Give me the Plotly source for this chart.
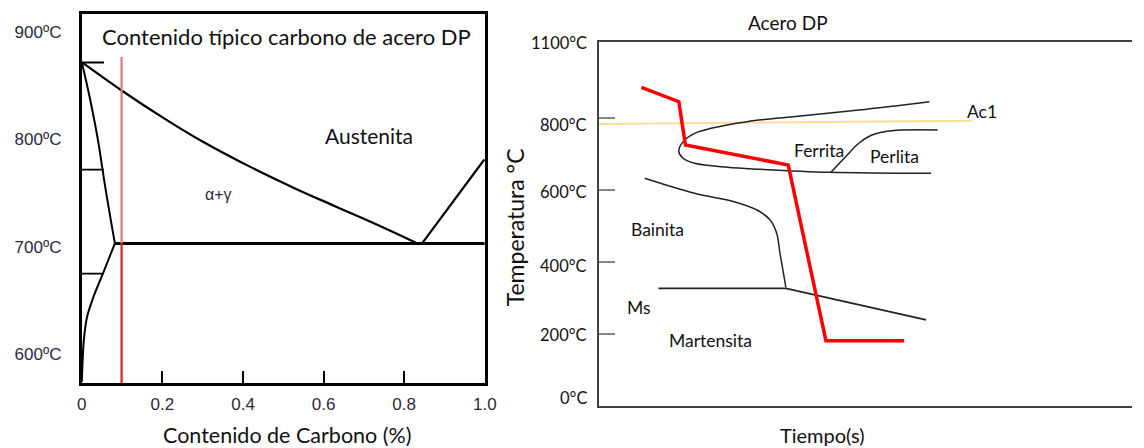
import plotly.graph_objects as go

W, H = 1144, 448

# ---------------- Left panel: Fe-C diagram (carbon % vs temperature) ----------------
left_xticks = [0, 0.2, 0.4, 0.6, 0.8, 1.0]
left_xtick_text = ["0", "0.2", "0.4", "0.6", "0.8", "1.0"]
left_yticks = [600, 700, 800, 900]
left_ytick_text = ["600ºC", "700ºC", "800ºC", "900ºC"]

# A3 line (gamma / alpha+gamma boundary)
a3_c = [0.0007, 0.0986, 0.2169, 0.2983, 0.4205, 0.5264, 0.6242, 0.7303, 0.8281]
a3_t = [871.8, 845.7, 816.7, 798.4, 774.0, 754.9, 738.5, 721.0, 704.0]
# ferrite upper boundary (alpha / alpha+gamma)
fa_c = [0.0007, 0.021, 0.040, 0.058, 0.082]
fa_t = [870.8, 836.6, 799.4, 755.9, 703.1]
# ferrite solvus below eutectoid
fs_c = [0.082, 0.054, 0.029, 0.013, 0.005, 0.002, 0.0]
fs_t = [703.1, 676.7, 653.4, 634.7, 613.0, 594.4, 574.2]
# eutectoid line
eut_c = [0.082, 1.0]
eut_t = [703.0, 703.0]
# Acm line
acm_c = [0.844, 0.999]
acm_t = [703.0, 781.4]
# short reference marks on the left
mark_c = [0.0, 0.055]
mark_t = [871.8, 772.0, 675.0]
# DP steel typical carbon
dp_c = 0.0986
dp_top_t = 877.0
eut_temp = 703.0
left_ymin, left_ymax = 573.0, 917.0

# ---------------- Right panel: CCT diagram ----------------
r_ytick_vals = [200, 400, 600, 800]
r_label_vals = [22, 197, 389, 594, 780, 1008]
r_label_text = ["0°C", "200°C", "400°C", "600°C", "800°C", "1100°C"]

ac1_t = [0.0, 70.0]
ac1_T = [783.3, 792.5]

fer_t = [61.98, 48.74, 36.41, 27.78, 21.01, 17.93, 15.77, 14.97, 15.77, 17.93, 24.09, 30.26, 43.19, 62.29]
fer_T = [845.3, 822.2, 803.7, 789.8, 771.3, 757.4, 734.3, 706.4, 688.0, 674.1, 663.0, 657.4, 649.1, 646.3]

per_t = [43.5, 46.27, 48.74, 51.2, 54.9, 63.53]
per_T = [649.0, 692.5, 729.7, 752.8, 764.8, 766.7]

bai_t = [8.56, 17.93, 25.32, 29.63, 32.1, 33.33, 33.95, 35.06]
bai_T = [632.5, 590.8, 567.5, 544.4, 516.7, 479.7, 424.2, 329.7]

ms_t = [11.15, 35.06, 61.37]
ms_T = [326.9, 326.9, 238.9]

path_t = [7.95, 14.97, 16.21, 35.49, 42.57, 57.25]
path_T = [885.3, 845.3, 725.0, 669.4, 181.4, 181.4]

r_labels = ["Ferrita", "Perlita", "Bainita", "Ms", "Martensita", "Ac1"]
r_label_t = [41.35, 55.5, 10.96, 7.45, 20.9, 71.85]
r_label_T = [711, 692.5, 489, 274, 183, 819]

FONT = "Lato"
ARIAL = "Liberation Sans"

fig = go.Figure()

def line(x, y, xa, ya, color="black", width=2, shape="spline", smoothing=1.0):
    fig.add_trace(go.Scatter(x=x, y=y, xaxis=xa, yaxis=ya, mode="lines",
                             line=dict(color=color, width=width, shape=shape, smoothing=smoothing),
                             hoverinfo="skip", showlegend=False))

# left panel traces
line(a3_c, a3_t, "x", "y", width=2.2, smoothing=1.0)
line(fa_c, fa_t, "x", "y", width=2)
line(fs_c, fs_t, "x", "y", width=2)
line(eut_c, eut_t, "x", "y", width=3, shape="linear")
line(acm_c, acm_t, "x", "y", width=2.2, shape="linear")
for t in mark_t:
    line(mark_c, [t, t], "x", "y", width=1.8, shape="linear")
line([dp_c, dp_c], [dp_top_t, eut_temp], "x", "y", color="#e07878", width=2.2, shape="linear")
line([dp_c, dp_c], [eut_temp, left_ymin], "x", "y", color="#d42424", width=2.2, shape="linear")

# right panel traces
line(ac1_t, ac1_T, "x2", "y2", color="#fbdd98", width=2, shape="linear")
line(fer_t, fer_T, "x2", "y2", color="#222222", width=1.5)
line(per_t, per_T, "x2", "y2", color="#222222", width=1.5)
line(bai_t, bai_T, "x2", "y2", color="#222222", width=1.5)
line(ms_t, ms_T, "x2", "y2", color="#222222", width=1.8, shape="linear")
line(path_t, path_T, "x2", "y2", color="#ff0000", width=3.5, shape="linear")

def note(text, x, y, xref, yref, size, family=FONT, color="#111", **kw):
    d = dict(text=text, x=x, y=y, xref=xref, yref=yref, showarrow=False,
             xanchor=kw.pop("xanchor", "center"), yanchor="middle",
             font=dict(family=family, size=size, color=color))
    d.update(kw)
    return d

ann = []
# left panel texts
ann.append(note("Contenido típico carbono de acero DP", 286 / W, 1 - 37 / H, "paper", "paper", 22))
ann.append(note("Austenita", 0.7115, 804, "x", "y", 21))
ann.append(note("α+γ", 0.34, 749, "x", "y", 16, family=ARIAL, color="#2a2a3a"))
ann.append(note("Contenido de Carbono (%)", 287 / W, 1 - 435 / H, "paper", "paper", 21.5))
# right panel texts
ann.append(note("Acero DP", 795 / W, 1 - 22 / H, "paper", "paper", 19))
ann.append(note("Temperatura °C", 518 / W, 1 - 227 / H, "paper", "paper", 23, textangle=-90))
ann.append(note("Tiempo(s)", 830 / W, 1 - 435 / H, "paper", "paper", 20))
for v, t in zip(r_label_vals, r_label_text):
    ann.append(note(t, 593 / W, v, "paper", "y2", 16.5, xanchor="right"))
for t, x, y in zip(r_labels, r_label_t, r_label_T):
    ann.append(note(t, x, y, "x2", "y2", 17.5))

fig.update_layout(
    width=W, height=H, margin=dict(l=0, r=0, t=0, b=0),
    paper_bgcolor="white", plot_bgcolor="white", showlegend=False,
    annotations=ann,
    xaxis=dict(domain=[78 / W, 487 / W], range=[0, 1], showgrid=False, zeroline=False,
               showline=True, mirror=True, linecolor="black", linewidth=3,
               ticks="inside", ticklen=12, tickwidth=2, tickcolor="black",
               tickvals=left_xticks, ticktext=left_xtick_text, ticklabelstandoff=4,
               tickfont=dict(family=ARIAL, size=17, color="#2a2a3a")),
    yaxis=dict(domain=[1 - 383 / H, 1 - 14 / H], range=[left_ymin, left_ymax], showgrid=False,
               zeroline=False, showline=True, mirror=True, linecolor="black", linewidth=3,
               ticks="", tickvals=left_yticks, ticktext=left_ytick_text, ticklabelstandoff=14,
               tickfont=dict(family=ARIAL, size=17, color="#2a2a3a")),
    xaxis2=dict(domain=[603 / W, 1], range=[0, 100], anchor="y2", showgrid=False, zeroline=False,
                showline=True, mirror=True, linecolor="#404040", linewidth=2,
                ticks="", showticklabels=False),
    yaxis2=dict(domain=[1 - 406 / H, 1 - 42 / H], range=[0, 1011], anchor="x2", showgrid=False,
                zeroline=False, showline=True, mirror=False, linecolor="#404040", linewidth=2,
                ticks="inside", ticklen=16, tickwidth=1.5, tickcolor="#888888",
                tickvals=r_ytick_vals, showticklabels=False),
)

fig.write_html("out.html")
